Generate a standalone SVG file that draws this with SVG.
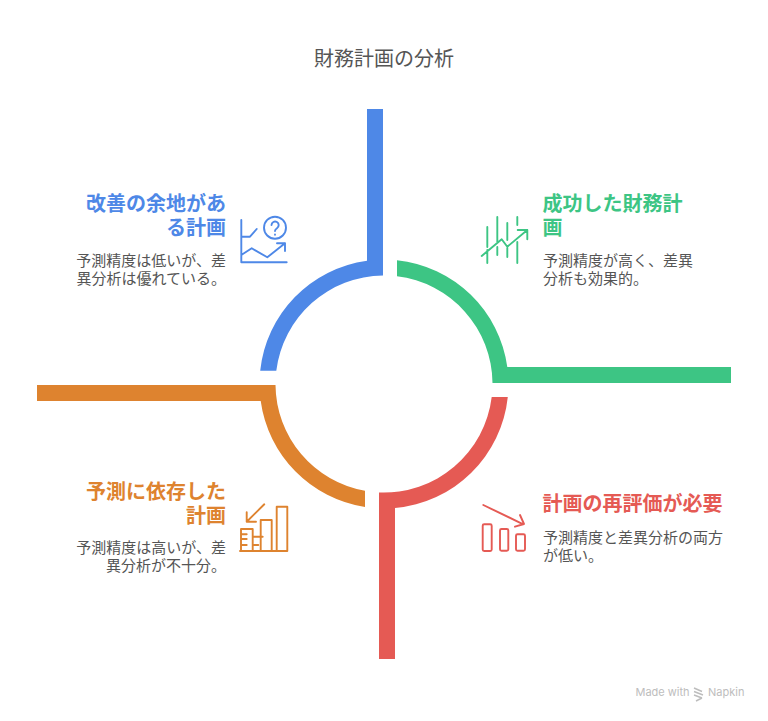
<svg xmlns="http://www.w3.org/2000/svg" width="768" height="721" viewBox="0 0 768 721">
<style>
text{font-family:"Noto Sans CJK JP","Noto Sans",sans-serif}
.t{font-size:20px;fill:#555}
.h{font-size:20px;font-weight:700}
.b{font-size:15px;fill:#555}
.e{text-anchor:end}
.i{fill:none;stroke-width:1.9;stroke-linecap:round;stroke-linejoin:round}
</style>
<rect width="768" height="721" fill="#fff"/>
<text class="t" x="384" y="66" text-anchor="middle">財務計画の分析</text>
<g id="connectors">
<path fill="#4e88e7" d="M260.2 370.7A124.5 124.5 0 0 1 367 260.7V109H383V275.5A108.5 108.5 0 0 0 276.3 370.7Z"/>
<path fill="#3dc584" d="M397 260.2A124.5 124.5 0 0 1 507.3 367H731V383H492.5A108.5 108.5 0 0 0 397 276.3Z"/>
<path fill="#e55a54" d="M507.8 397A124.5 124.5 0 0 1 395 508V659H379V492.4A108.5 108.5 0 0 0 491.7 397Z"/>
<path fill="#de832f" d="M37 385H275.5A108.5 108.5 0 0 0 365 490.8V507A124.5 124.5 0 0 1 260.7 401H37Z"/>
</g>
<g id="node-blue">
<text class="h e" x="226" y="210.500" fill="#4e88e7">改善の余地があ</text>
<text class="h e" x="226" y="235" fill="#4e88e7">る計画</text>
<text class="b e" x="226" y="265.500">予測精度は低いが、差</text>
<text class="b e" x="226" y="283.500">異分析は優れている。</text>
<g class="i" stroke="#4e88e7">
<path d="M241.3 220V262.3H286.7M241.3 236.7H250L256.7 229M241.3 255L251.7 248.3L267.3 257.3L285 243.3M277 243.3H285V251"/>
<circle cx="275" cy="227.7" r="11"/>
<path d="M271.5 225a3.6 3.6 0 1 1 5.5 3.2c-1.3.8-2 1.4-2 2.8M275 234.5v.2"/>
</g>
</g>
<g id="node-green">
<text class="h" x="542.500" y="210.500" fill="#3dc584">成功した財務計</text>
<text class="h" x="542.500" y="235" fill="#3dc584">画</text>
<text class="b" x="543" y="265.500">予測精度が高く、差異</text>
<text class="b" x="543" y="283.500">分析も効果的。</text>
<g class="i" stroke="#3dc584">
<path d="M487.300 227V247M487.300 250V263M497.300 217V242M497.300 247V255M507.300 223V240M507.300 248V257M517.300 217V225M517.300 242V263M481.700 256L501.700 239.300L507.300 246.700L527.300 230M517.700 230H527.300V239.300"/>
</g>
</g>
<g id="node-red">
<text class="h" x="542.500" y="510.500" fill="#e55a54">計画の再評価が必要</text>
<text class="b" x="543" y="542.500">予測精度と差異分析の両方</text>
<text class="b" x="543" y="560.500">が低い。</text>
<g class="i" stroke="#e55a54">
<path d="M483.300 505L523.300 524.300M520 515L524 524L515 526.700"/>
<rect x="482.700" y="524.300" width="9" height="26.700" rx="1.500"/>
<rect x="500" y="529" width="8.300" height="21.700" rx="1.500"/>
<rect x="516" y="534.300" width="9" height="16.400" rx="1.500"/>
</g>
</g>
<g id="node-orange">
<text class="h e" x="226" y="498.500" fill="#de832f">予測に依存した</text>
<text class="h e" x="226" y="523" fill="#de832f">計画</text>
<text class="b e" x="226" y="553">予測精度は高いが、差</text>
<text class="b e" x="226" y="571">異分析が不十分。</text>
<g class="i" stroke="#de832f">
<path d="M264.300 504.300L246.700 521.700M246.700 512.300V521.700H256M240 551H287.300M276.700 551V506.700H287.300V551M260.700 551V520H271.700V551M241 551V529H252.700V551M252.700 536.700H262.700M241.700 534.300H246.700M241.700 539H246.700M241.700 545H246.700M252.700 545H258.300"/>
</g>
</g>
<g id="watermark">
<text x="635.500" y="696" font-size="11" fill="#bdbdbd" style="font-family:Inter,sans-serif">Made with</text>
<path d="M694 688L702 691.500M694 691.500L703 695M694 695L702 698M696 701L702 698" fill="none" stroke="#bdbdbd" stroke-width="1.500"/>
<text x="708" y="696" font-size="11" fill="#bdbdbd" style="font-family:Inter,sans-serif">Napkin</text>
</g>
</svg>
